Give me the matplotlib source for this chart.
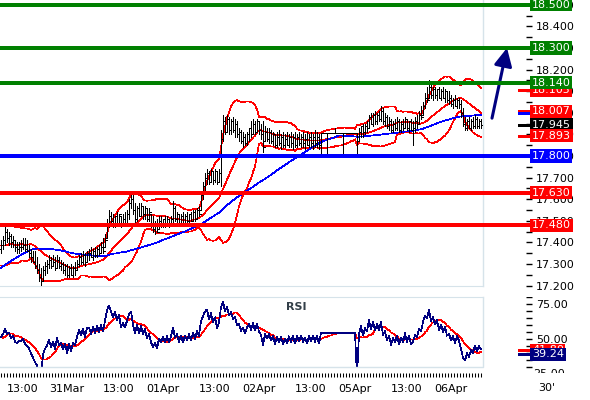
import numpy as np
import pandas as pd
import matplotlib
matplotlib.use("Agg")
import matplotlib.pyplot as plt
import matplotlib.transforms as mtransforms
from matplotlib.ticker import MultipleLocator, FixedLocator, FixedFormatter, FormatStrFormatter
from matplotlib.patches import Rectangle

plt.rcParams["font.family"] = "DejaVu Sans"
plt.rcParams["font.size"] = 8

# 30 minute bars, 31Mar - 06Apr
# closes before the first visible bar (only used to warm up the indicators)
earlier_close = [
    17.02, 17.05, 17.03, 17.06, 17.04, 17.07, 17.05, 17.03, 17.06, 17.08,
    17.05, 17.04, 17.07, 17.06, 17.09, 17.08, 17.14, 17.18, 17.22, 17.25,
    17.28, 17.30, 17.27, 17.31, 17.34, 17.32, 17.35, 17.38, 17.36, 17.39,
    17.41, 17.38, 17.40, 17.43, 17.40, 17.38, 17.42, 17.39, 17.37, 17.40,
    17.34, 17.41, 17.45, 17.38, 17.33, 17.37, 17.43, 17.46, 17.40, 17.35,
    17.32, 17.38, 17.43, 17.36, 17.33, 17.30, 17.36, 17.42, 17.46, 17.37,
]

high = [
    17.41, 17.43, 17.47, 17.46, 17.45, 17.44, 17.43, 17.41, 17.40, 17.40,
    17.41, 17.42, 17.42, 17.41, 17.39, 17.37, 17.36, 17.36, 17.33, 17.30,
    17.28, 17.29, 17.31, 17.32, 17.34, 17.33, 17.34, 17.33, 17.34, 17.33,
    17.32, 17.31, 17.30, 17.30, 17.29, 17.30, 17.29, 17.31, 17.32, 17.34,
    17.35, 17.36, 17.35, 17.36, 17.37, 17.38, 17.37, 17.38, 17.38, 17.39,
    17.40, 17.42, 17.44, 17.51, 17.55, 17.54, 17.53, 17.52, 17.54, 17.53,
    17.52, 17.53, 17.54, 17.55, 17.60, 17.64, 17.62, 17.58, 17.57, 17.58,
    17.58, 17.57, 17.57, 17.56, 17.56, 17.53, 17.52, 17.50, 17.51, 17.52,
    17.52, 17.51, 17.52, 17.52, 17.51, 17.52, 17.59, 17.57, 17.54, 17.53,
    17.53, 17.54, 17.53, 17.54, 17.53, 17.54, 17.55, 17.55, 17.56, 17.57,
    17.64, 17.68, 17.72, 17.74, 17.73, 17.74, 17.73, 17.74, 17.73, 17.74,
    17.92, 17.99, 17.98, 17.99, 17.98, 17.97, 17.98, 17.97, 17.96, 17.93,
    17.92, 17.91, 17.90, 17.91, 17.93, 17.96, 17.97, 17.96, 17.97, 17.96,
    17.95, 17.96, 17.94, 17.93, 17.93, 17.92, 17.91, 17.90, 17.91, 17.92,
    17.90, 17.91, 17.90, 17.91, 17.90, 17.91, 17.90, 17.91, 17.90, 17.91,
    17.90, 17.91, 17.90, 17.91, 17.90, 17.91, 17.90, 17.92, 17.91, 17.90,
    17.905, 17.905, 17.905, 17.905, 17.905, 17.905, 17.905, 17.93, 17.905, 17.905,
    17.905, 17.905, 17.905, 17.905, 17.905, 17.905, 17.905, 17.905, 17.905, 17.93,
    17.94, 17.95, 17.95, 17.96, 17.99, 18.00, 18.00, 18.01, 18.00, 18.01,
    18.03, 18.02, 18.00, 17.99, 17.98, 17.97, 17.96, 17.97, 17.98, 17.97,
    17.96, 17.97, 17.98, 17.97, 17.96, 17.97, 17.96, 17.98, 17.99, 18.01,
    18.03, 18.05, 18.09, 18.12, 18.15, 18.14, 18.12, 18.12, 18.11, 18.12,
    18.11, 18.12, 18.11, 18.10, 18.10, 18.08, 18.07, 18.08, 18.07, 18.07,
    18.06, 18.02, 17.98, 17.97, 17.98, 17.97, 17.98, 17.99, 17.98, 17.97,
    17.97,
]

low = [
    17.35, 17.37, 17.39, 17.40, 17.39, 17.38, 17.38, 17.36, 17.35, 17.35,
    17.36, 17.37, 17.36, 17.36, 17.33, 17.31, 17.31, 17.28, 17.26, 17.22,
    17.20, 17.22, 17.25, 17.26, 17.28, 17.28, 17.29, 17.27, 17.28, 17.28,
    17.27, 17.26, 17.25, 17.24, 17.24, 17.25, 17.24, 17.25, 17.27, 17.29,
    17.30, 17.30, 17.29, 17.31, 17.32, 17.33, 17.32, 17.33, 17.33, 17.34,
    17.35, 17.35, 17.38, 17.42, 17.47, 17.48, 17.47, 17.47, 17.48, 17.48,
    17.47, 17.48, 17.49, 17.49, 17.51, 17.56, 17.53, 17.49, 17.50, 17.52,
    17.52, 17.51, 17.51, 17.50, 17.50, 17.47, 17.45, 17.44, 17.45, 17.46,
    17.47, 17.47, 17.47, 17.48, 17.47, 17.48, 17.49, 17.50, 17.49, 17.48,
    17.48, 17.49, 17.48, 17.49, 17.49, 17.50, 17.50, 17.50, 17.51, 17.52,
    17.55, 17.60, 17.64, 17.67, 17.67, 17.68, 17.67, 17.68, 17.67, 17.68,
    17.66, 17.87, 17.90, 17.91, 17.90, 17.90, 17.91, 17.89, 17.89, 17.87,
    17.86, 17.84, 17.85, 17.85, 17.87, 17.89, 17.90, 17.90, 17.91, 17.90,
    17.88, 17.82, 17.87, 17.87, 17.86, 17.86, 17.85, 17.84, 17.84, 17.85,
    17.83, 17.84, 17.84, 17.85, 17.84, 17.84, 17.83, 17.84, 17.84, 17.85,
    17.84, 17.84, 17.83, 17.85, 17.84, 17.84, 17.83, 17.84, 17.84, 17.83,
    17.81, 17.905, 17.905, 17.81, 17.905, 17.905, 17.905, 17.905, 17.905, 17.905,
    17.905, 17.81, 17.905, 17.905, 17.905, 17.905, 17.905, 17.905, 17.81, 17.87,
    17.89, 17.89, 17.90, 17.91, 17.93, 17.95, 17.94, 17.95, 17.95, 17.96,
    17.96, 17.95, 17.94, 17.93, 17.92, 17.91, 17.91, 17.92, 17.92, 17.91,
    17.91, 17.92, 17.93, 17.92, 17.91, 17.92, 17.85, 17.91, 17.93, 17.95,
    17.97, 17.99, 18.02, 18.05, 18.07, 18.07, 18.06, 18.07, 18.06, 18.07,
    18.06, 18.07, 18.05, 18.05, 18.04, 18.03, 18.02, 18.03, 18.02, 18.02,
    17.98, 17.94, 17.92, 17.92, 17.93, 17.92, 17.93, 17.93, 17.93, 17.93,
    17.93,
]

close = [
    17.39, 17.41, 17.45, 17.42, 17.43, 17.40, 17.41, 17.38, 17.37, 17.38,
    17.38, 17.39, 17.37, 17.36, 17.35, 17.33, 17.31, 17.29, 17.27, 17.24,
    17.22, 17.27, 17.29, 17.30, 17.32, 17.29, 17.31, 17.28, 17.32, 17.29,
    17.30, 17.27, 17.29, 17.25, 17.28, 17.25, 17.28, 17.27, 17.30, 17.33,
    17.31, 17.34, 17.31, 17.35, 17.35, 17.33, 17.36, 17.34, 17.37, 17.35,
    17.38, 17.36, 17.41, 17.48, 17.52, 17.50, 17.48, 17.52, 17.49, 17.53,
    17.48, 17.51, 17.49, 17.53, 17.58, 17.60, 17.55, 17.51, 17.56, 17.52,
    17.57, 17.53, 17.56, 17.51, 17.54, 17.49, 17.46, 17.48, 17.45, 17.50,
    17.48, 17.51, 17.48, 17.51, 17.48, 17.51, 17.56, 17.51, 17.53, 17.49,
    17.52, 17.49, 17.52, 17.50, 17.53, 17.50, 17.54, 17.51, 17.55, 17.53,
    17.62, 17.66, 17.70, 17.72, 17.68, 17.73, 17.69, 17.73, 17.68, 17.72,
    17.88, 17.96, 17.91, 17.97, 17.92, 17.96, 17.92, 17.95, 17.90, 17.91,
    17.87, 17.89, 17.86, 17.90, 17.93, 17.90, 17.95, 17.91, 17.96, 17.92,
    17.90, 17.84, 17.91, 17.88, 17.91, 17.87, 17.90, 17.85, 17.89, 17.86,
    17.89, 17.85, 17.88, 17.85, 17.89, 17.86, 17.89, 17.85, 17.89, 17.86,
    17.89, 17.86, 17.88, 17.85, 17.89, 17.86, 17.89, 17.86, 17.89, 17.85,
    17.905, 17.905, 17.905, 17.905, 17.905, 17.905, 17.905, 17.905, 17.905, 17.905,
    17.905, 17.905, 17.905, 17.905, 17.905, 17.905, 17.905, 17.905, 17.81, 17.91,
    17.94, 17.91, 17.94, 17.93, 17.98, 17.95, 17.99, 17.96, 17.99, 17.97,
    18.01, 17.96, 17.98, 17.94, 17.96, 17.92, 17.95, 17.93, 17.96, 17.92,
    17.95, 17.93, 17.97, 17.93, 17.96, 17.92, 17.93, 17.96, 17.95, 17.99,
    17.98, 18.03, 18.07, 18.06, 18.12, 18.08, 18.11, 18.08, 18.11, 18.07,
    18.10, 18.07, 18.10, 18.06, 18.07, 18.04, 18.06, 18.03, 18.06, 18.04,
    18.00, 17.95, 17.93, 17.96, 17.93, 17.96, 17.94, 17.97, 17.94, 17.96,
    17.945,
]

x_tick_pos = [11, 33, 59, 81, 107, 129, 155, 177, 203, 225]
x_tick_labels = ["13:00", "31Mar", "13:00", "01Apr", "13:00", "02Apr",
                 "13:00", "05Apr", "13:00", "06Apr"]

level_values = [18.500, 18.300, 18.140, 17.800, 17.630, 17.480]
level_colors = ["#008000", "#008000", "#008000", "#0000ff", "#ff0000", "#ff0000"]

# last values printed on the right hand scale
last_values = [18.105, 18.007, 17.945, 17.893]
last_colors = ["#ff0000", "#ff0000", "#000000", "#ff0000"]
ma_last = 18.00
rsi_last = 39.24
rsi_avg_last = 41.8

arrow_from = (245.5, 17.975)
arrow_to = (253.0, 18.30)

FRAME = "#d6e3ea"
NAVY = "#000080"
THIN = 0.5
RSI_LEN = 11

# indicators
s = pd.Series(earlier_close + close)
mid = s.rolling(20).mean()
sd = s.rolling(20).std(ddof=0)
upper = mid + 2 * sd
lower = mid - 2 * sd
ma = s.rolling(60).mean()
delta = s.diff()
gain = delta.clip(lower=0).ewm(alpha=1 / RSI_LEN, adjust=False).mean()
loss = (-delta.clip(upper=0)).ewm(alpha=1 / RSI_LEN, adjust=False).mean()
rsi = 100 - 100 / (1 + gain / loss)
rsi_avg = rsi.rolling(9).mean()

k = len(earlier_close)
n = len(close)
x = np.arange(n)
hi = np.array(high)
lo = np.array(low)
cl = np.array(close)
op = np.clip(np.r_[earlier_close[-1], cl[:-1]], lo, hi)

W, H = 590, 400
fig = plt.figure(figsize=(W / 100, H / 100), dpi=100)


def px_axes(x0, y0, x1, y1):
    return fig.add_axes([x0 / W, 1 - y1 / H, (x1 - x0) / W, (y1 - y0) / H])


ax = px_axes(0, 0, 483, 286)
ax_rsi = px_axes(0, 297, 483, 367)
EDGE = 483.0


def right_tr(a):
    return mtransforms.blended_transform_factory(a.transAxes, a.transData)


def value_box(a, y, text, color, z=6):
    a.text(532 / EDGE, y, text, transform=right_tr(a), ha="left", va="center",
           color="white", fontsize=8, zorder=z, clip_on=False,
           bbox=dict(boxstyle="square,pad=0.14", fc=color, ec="none"))


def stub(a, y, color):
    a.plot([519 / EDGE, 530 / EDGE], [y, y], transform=right_tr(a), color=color,
           lw=0.75, clip_on=False, antialiased=False, zorder=5)


# ---- price panel ----
ax.set_xlim(-0.5, 241)
ax.set_ylim(17.198, 18.522)

for line, col in [(upper, "#ff0000"), (mid, "#ff0000"), (lower, "#ff0000"), (ma, "#0000ff")]:
    ax.plot(x, line[k:], color=col, lw=THIN, antialiased=False, zorder=2)

ax.vlines(x, lo, hi, color="black", lw=THIN, antialiased=False, zorder=3)
ax.hlines(op, x - 0.8, x, color="black", lw=THIN, antialiased=False, zorder=3)
ax.hlines(cl, x, x + 0.8, color="black", lw=THIN, antialiased=False, zorder=3)

for v, c in zip(level_values, level_colors):
    ax.axhline(v, xmin=0, xmax=531 / EDGE, color=c, lw=1.5, clip_on=False,
               antialiased=False, zorder=4)

for v, c in zip(last_values, last_colors):
    stub(ax, v, c)
stub(ax, ma_last, "#0000ff")

for v, c in zip(last_values, last_colors):
    value_box(ax, v, f"{v:.3f}", c, z=6)
for v, c in zip(level_values, level_colors):
    value_box(ax, v, f"{v:.3f}", c, z=7)

ax.annotate("", xy=arrow_to, xytext=arrow_from, annotation_clip=False,
            arrowprops=dict(arrowstyle="-|>,head_length=0.9,head_width=0.45",
                            color=NAVY, lw=2.2, mutation_scale=12,
                            shrinkA=0, shrinkB=0))

ax.yaxis.tick_right()
ax.spines["right"].set_position(("axes", 526 / EDGE))
ax.spines["right"].set_visible(False)
ax.spines["left"].set_visible(False)
ax.spines["top"].set_visible(False)
ax.spines["bottom"].set_color(FRAME)
ax.yaxis.set_major_locator(MultipleLocator(0.1))
ax.yaxis.set_minor_locator(MultipleLocator(0.05))
ax.yaxis.set_major_formatter(FormatStrFormatter("%.3f"))
ax.tick_params(axis="y", which="both", direction="out", length=4, width=1,
               pad=3, labelsize=8, left=False, labelleft=False)
ax.set_xticks([])
ax.plot([1, 1], [0, 1], transform=ax.transAxes, color=FRAME, lw=1, clip_on=False)

# ---- RSI panel ----
ax_rsi.set_xlim(-0.5, 241)
ax_rsi.set_ylim(30, 80)
ax_rsi.plot(x, rsi_avg[k:], color="#ff0000", lw=THIN, antialiased=False)
ax_rsi.plot(x, rsi[k:], color=NAVY, lw=THIN, antialiased=False)
ax_rsi.text(296 / EDGE, 0.93, "RSI", transform=ax_rsi.transAxes, ha="center",
            va="top", fontsize=8, fontweight="bold", color="#333f48")

stub(ax_rsi, rsi_avg_last, "#ff0000")
stub(ax_rsi, rsi_last, NAVY)
value_box(ax_rsi, rsi_avg_last, f"{rsi_avg_last:.2f}", "#ff0000", z=6)
value_box(ax_rsi, rsi_last, f"{rsi_last:.2f}", NAVY, z=7)

ax_rsi.yaxis.tick_right()
ax_rsi.spines["right"].set_position(("axes", 526 / EDGE))
ax_rsi.spines["right"].set_visible(False)
ax_rsi.spines["left"].set_visible(False)
ax_rsi.spines["top"].set_color(FRAME)
ax_rsi.spines["bottom"].set_position(("outward", 4))
ax_rsi.spines["bottom"].set_visible(False)
ax_rsi.plot([0, 1, 1], [0, 0, 1], transform=ax_rsi.transAxes, color=FRAME, lw=1,
            clip_on=False)
ax_rsi.yaxis.set_major_locator(FixedLocator([50, 75]))
ax_rsi.yaxis.set_minor_locator(MultipleLocator(5))
ax_rsi.yaxis.set_major_formatter(FormatStrFormatter("%.2f"))
ax_rsi.tick_params(axis="y", which="both", direction="out", length=4, width=1,
                   pad=3, labelsize=8, left=False, labelleft=False)
ax_rsi.text(533 / EDGE, 25, "25.00", transform=right_tr(ax_rsi), ha="left",
            va="center", fontsize=8, clip_on=False)

ax_rsi.xaxis.remove_overlapping_locs = False
ax_rsi.xaxis.set_major_locator(FixedLocator(x_tick_pos))
ax_rsi.xaxis.set_major_formatter(FixedFormatter(x_tick_labels))
ax_rsi.xaxis.set_minor_locator(MultipleLocator(1.5))
ax_rsi.tick_params(axis="x", which="major", length=0, pad=8, labelsize=8)
ax_rsi.tick_params(axis="x", which="minor", length=3, width=0.75, direction="out")

fig.text(547 / W, 1 - 388 / H, "30'", ha="center", va="center", fontsize=8)

# white strips that cut the lowest scale labels like the original
fig.patches.append(Rectangle((520 / W, 1 - 297 / H), 70 / W, 5 / H,
                             transform=fig.transFigure, fc="white", ec="none",
                             zorder=20))
fig.patches.append(Rectangle((520 / W, 1 - 380 / H), 70 / W, 7 / H,
                             transform=fig.transFigure, fc="white", ec="none",
                             zorder=20))

fig.savefig("out.png", dpi=100)
